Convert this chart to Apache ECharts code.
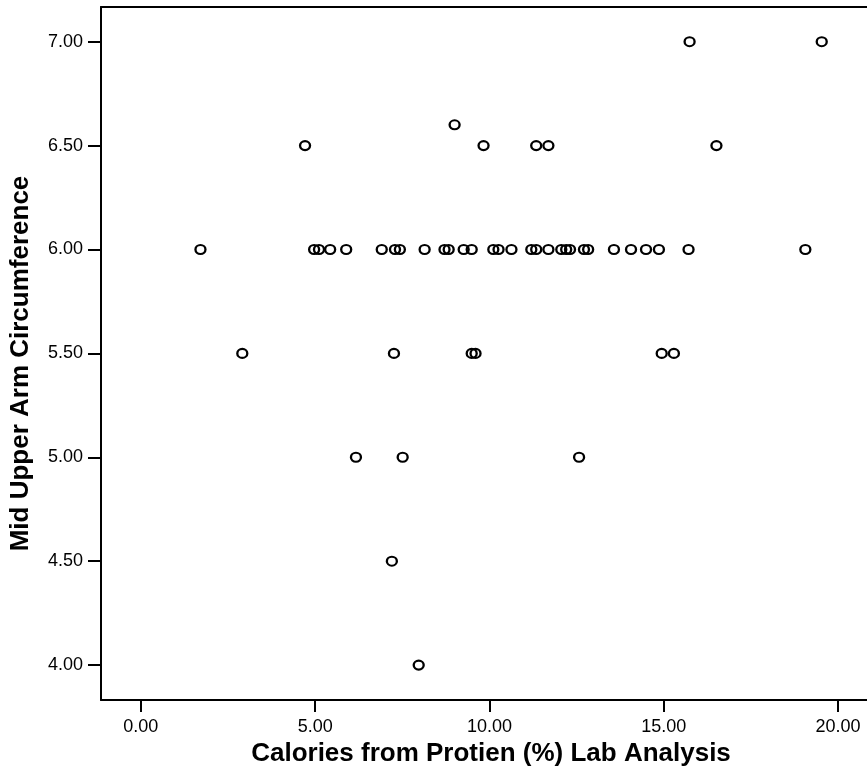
<!DOCTYPE html>
<html>
<head>
<meta charset="utf-8">
<script src="https://cdn.jsdelivr.net/npm/echarts@6/dist/echarts.min.js"></script>
<style>
html,body{margin:0;padding:0;background:#fff;}
#chart{width:867px;height:772px;}
</style>
</head>
<body>
<div id="chart"></div>
<script>
// Calories from Protein (%) values
const xValues = [
  // MUAC = 7.00
  15.74, 19.53,
  // 6.60
  9.00,
  // 6.50
  4.71, 9.83, 11.34, 11.69, 16.51,
  // 6.00
  1.71, 4.97, 5.11, 5.43, 5.89, 6.91, 7.29, 7.43, 8.14, 8.71, 8.83, 9.26, 9.49,
  10.11, 10.26, 10.63, 11.20, 11.34, 11.69, 12.06, 12.20, 12.31, 12.71, 12.83,
  13.57, 14.06, 14.49, 14.86, 15.71, 19.06,
  // 5.50
  2.91, 7.26, 9.49, 9.60, 14.94, 15.29,
  // 5.00
  6.17, 7.51, 12.57,
  // 4.50
  7.20,
  // 4.00
  7.97
];
// Mid Upper Arm Circumference values
const yValues = [
  7.00, 7.00,
  6.60,
  6.50, 6.50, 6.50, 6.50, 6.50,
  6.00, 6.00, 6.00, 6.00, 6.00, 6.00, 6.00, 6.00, 6.00, 6.00, 6.00, 6.00, 6.00,
  6.00, 6.00, 6.00, 6.00, 6.00, 6.00, 6.00, 6.00, 6.00, 6.00, 6.00,
  6.00, 6.00, 6.00, 6.00, 6.00, 6.00,
  5.50, 5.50, 5.50, 5.50, 5.50, 5.50,
  5.00, 5.00, 5.00,
  4.50,
  4.00
];
const xTicks = [0, 5, 10, 15, 20];
const yTicks = [4.0, 4.5, 5.0, 5.5, 6.0, 6.5, 7.0];
const xTitle = 'Calories from Protien (%) Lab Analysis';
const yTitle = 'Mid Upper Arm Circumference';

const points = xValues.map((x, i) => [x, yValues[i]]);
const FONT = '"Liberation Sans", Arial, sans-serif';
const X_MIN = -8 / 7;
const X_MAX = -8 / 7 + 769 / 35;

const chart = echarts.init(document.getElementById('chart'), null, {renderer: 'canvas'});
chart.setOption({
  animation: false,
  backgroundColor: '#ffffff',
  grid: {
    left: 98, top: 7, right: 0, bottom: 71,
    show: false, containLabel: false
  },
  xAxis: [{
    type: 'value',
    min: X_MIN,
    max: X_MAX,
    name: xTitle,
    nameLocation: 'middle',
    nameGap: 41,
    nameTextStyle: {fontFamily: FONT, fontWeight: 'bold', fontSize: 26, color: '#000',
      padding: [0, 0, 0, 14]},
    axisLine: {show: true, onZero: false, lineStyle: {color: '#000', width: 2}},
    axisTick: {show: true, length: 12, customValues: xTicks, lineStyle: {color: '#000', width: 2}},
    axisLabel: {show: true, customValues: xTicks, margin: 18, fontFamily: FONT, fontSize: 18, color: '#000',
      formatter: v => Number(v).toFixed(2)},
    splitLine: {show: false}
  }, {
    type: 'value',
    position: 'top',
    min: X_MIN,
    max: X_MAX,
    axisLine: {show: true, onZero: false, lineStyle: {color: '#000', width: 2}},
    axisTick: {show: false},
    axisLabel: {show: false},
    splitLine: {show: false}
  }],
  yAxis: {
    type: 'value',
    min: 3.832,
    max: 7.167,
    name: yTitle,
    nameLocation: 'middle',
    nameGap: 67,
    nameRotate: 90,
    nameTextStyle: {fontFamily: FONT, fontWeight: 'bold', fontSize: 26, color: '#000',
      padding: [0, 20, 0, 0]},
    axisLine: {show: true, onZero: false, lineStyle: {color: '#000', width: 2}},
    axisTick: {show: true, length: 13, customValues: yTicks, lineStyle: {color: '#000', width: 2}},
    axisLabel: {show: true, customValues: yTicks, margin: 18, fontFamily: FONT, fontSize: 18, color: '#000',
      formatter: v => Number(v).toFixed(2)},
    splitLine: {show: false}
  },
  series: [{
    type: 'scatter',
    xAxisIndex: 0,
    data: points,
    symbol: 'circle',
    symbolSize: [10, 9],
    itemStyle: {color: 'rgba(0,0,0,0)', borderColor: '#000', borderWidth: 2.2, opacity: 1},
    emphasis: {disabled: true}
  }]
});
</script>
</body>
</html>
